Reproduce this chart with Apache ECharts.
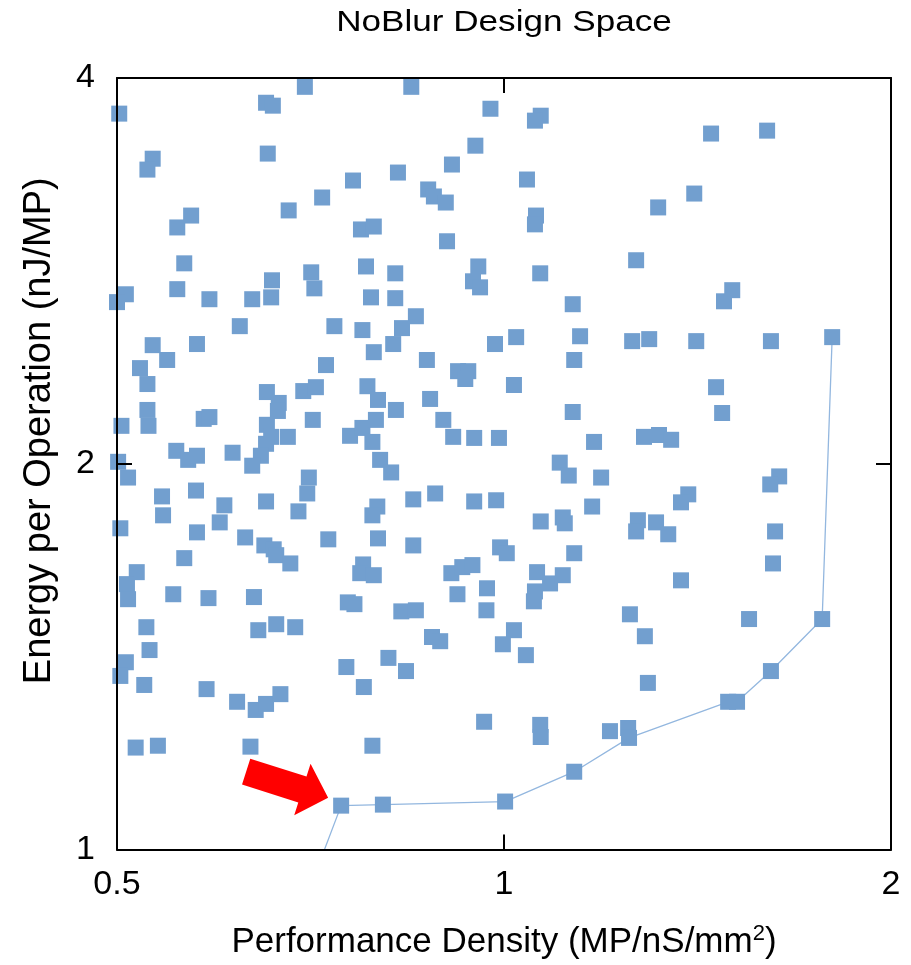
<!DOCTYPE html>
<html><head><meta charset="utf-8">
<script src="https://cdn.jsdelivr.net/npm/echarts@6/dist/echarts.min.js"></script>
<style>html,body{margin:0;padding:0;background:#fff}#c{width:911px;height:965px}</style>
</head><body><div id="c"></div>
<script>
const titleText = 'NoBlur Design Space';
const xAxisTitle = 'Performance Density (MP/nS/mm';
const xAxisTitleSup = '2';
const yAxisTitle = 'Energy per Operation (nJ/MP)';
const xTickValues = [0.5, 1, 2];
const yTickValues = [1, 2, 4];

// Performance density (MP/nS/mm^2) of each design point
const perfDensity = [
  0.502,0.653,0.661,0.700,0.533,0.528,0.655,0.763,0.722,0.680,
  0.571,0.557,0.774,0.792,0.564,0.781,0.708,0.712,0.660,0.659,
  0.508,0.500,0.557,0.590,0.637,0.788,0.623,0.738,0.776,0.847,
  0.976,1.068,1.057,0.950,0.911,0.827,1.042,0.873,0.882,0.901,
  1.059,1.057,0.903,0.823,0.955,0.946,0.958,1.067,0.823,0.854,
  1.131,0.833,1.449,1.602,1.406,1.318,1.267,1.505,1.483,0.533,
  0.577,0.547,0.521,0.528,0.727,0.792,0.783,0.798,0.654,0.668,
  0.667,0.698,0.714,0.528,0.529,0.504,0.584,0.590,0.710,0.654,
  0.659,0.653,0.647,0.637,0.679,0.759,0.776,0.790,0.556,0.568,
  0.577,0.615,0.501,0.510,0.705,0.703,0.576,0.542,0.543,0.606,
  0.601,0.653,0.692,0.797,0.790,0.503,0.577,0.629,0.651,0.662,
  0.665,0.682,0.730,0.798,0.564,0.518,0.509,0.777,0.773,0.792,
  0.553,0.589,0.639,0.510,0.820,0.984,1.022,1.146,0.871,0.921,
  0.938,0.933,1.134,1.018,0.876,0.824,1.131,0.795,0.897,0.913,
  0.948,0.991,1.175,0.801,0.817,1.105,1.123,1.190,0.850,0.884,
  0.948,0.986,1.171,1.068,1.111,1.115,0.850,0.993,1.005,1.134,
  0.910,0.928,0.945,1.061,1.086,1.111,1.057,0.970,0.920,1.258,
  1.297,1.411,1.613,1.800,1.462,1.478,1.285,1.320,1.349,1.637,
  1.611,1.391,1.373,1.271,1.267,1.313,1.342,1.625,1.619,1.373,
  0.756,0.765,0.527,0.644,0.665,0.688,0.530,0.508,0.503,0.525,
  0.587,0.754,0.778,0.620,0.641,0.653,0.670,0.517,0.538,0.635,
  0.790,0.747,0.832,0.854,0.969,1.055,1.253,0.879,0.892,1.018,
  0.998,1.040,0.813,0.839,0.965,1.067,1.068,1.209,1.249,1.251,
  1.134,0.805,1.002,1.551,1.287,1.294,1.768,1.613,1.494,1.518
];

// Energy per operation (nJ/MP) of each design point
const energyPerOp = [
  3.752,3.826,3.806,3.937,3.460,3.393,3.492,3.327,3.227,3.153,
  3.124,3.058,3.047,3.063,2.867,2.851,2.821,2.741,2.781,2.697,
  2.712,2.674,2.737,2.688,2.688,2.697,2.561,2.561,2.543,3.937,
  3.785,3.738,3.705,3.542,3.424,3.375,3.333,3.274,3.233,3.198,
  3.124,3.075,2.983,2.816,2.851,2.776,2.746,2.816,2.693,2.607,
  2.664,2.552,3.620,3.639,3.250,3.170,2.883,2.732,2.678,2.475,
  2.480,2.410,2.375,2.308,2.388,2.444,2.299,2.243,2.275,2.231,
  2.199,2.279,2.295,2.203,2.141,2.141,2.168,2.175,2.164,2.145,
  2.099,2.073,2.029,1.993,2.099,2.103,2.133,2.080,2.047,2.014,
  2.029,2.040,2.007,1.951,1.951,1.896,1.906,1.886,1.823,1.856,
  1.800,1.869,1.836,1.852,1.823,1.781,1.768,1.752,1.727,1.715,
  1.697,1.672,1.746,1.749,1.688,1.646,1.611,1.669,1.643,1.637,
  1.582,1.571,1.574,1.568,2.480,2.480,2.511,2.515,2.410,2.362,
  2.362,2.329,2.410,2.304,2.247,2.203,2.195,2.164,2.164,2.099,
  2.095,2.095,2.080,2.014,1.969,2.004,1.958,1.951,1.876,1.896,
  1.869,1.873,1.852,1.803,1.816,1.797,1.727,1.721,1.703,1.703,
  1.643,1.661,1.667,1.646,1.613,1.637,1.590,1.599,1.582,2.493,
  2.502,2.493,2.493,2.511,2.295,2.191,2.099,2.106,2.088,1.955,
  1.927,1.893,1.866,1.807,1.771,1.800,1.762,1.771,1.672,1.622,
  1.559,1.554,1.491,1.483,1.499,1.491,1.431,1.400,1.366,1.344,
  1.334,1.388,1.339,1.304,1.285,1.299,1.322,1.201,1.205,1.203,
  1.205,1.082,1.534,1.537,1.537,1.562,1.526,1.465,1.454,1.483,
  1.446,1.418,1.411,1.378,1.258,1.251,1.224,1.237,1.244,1.222,
  1.150,1.084,1.090,1.513,1.467,1.349,1.513,1.378,1.304,1.304
];

// Pareto frontier (continues below the plotted range at the first point)
const paretoPerf   = [0.702, 0.747, 0.805, 1.002, 1.134, 1.251, 1.494, 1.518, 1.613, 1.768, 1.800];
const paretoEnergy = [0.918, 1.082, 1.084, 1.090, 1.150, 1.222, 1.304, 1.304, 1.378, 1.513, 2.511];

// design point highlighted by the red arrow
const highlightedPoint = [0.747, 1.082];

const FONT = "'Liberation Sans', Arial, sans-serif";
const chart = echarts.init(document.getElementById('c'), null, {renderer: 'canvas'});

const axisLineStyle = {show: true, lineStyle: {color: '#000', width: 2}};
const axisTickStyle = {show: true, inside: true, length: 15, lineStyle: {color: '#000', width: 2}};

chart.setOption({
  animation: false,
  backgroundColor: '#fff',
  graphic: [{
    type: 'text', x: 504, y: 23, scaleX: 1.17, scaleY: 1,
    style: {text: titleText, fontSize: 30, fontFamily: FONT, fill: '#000', align: 'center', verticalAlign: 'middle'}
  }],
  grid: {left: 117, top: 78, right: 20, bottom: 113, containLabel: false, show: false},
  xAxis: [{
    type: 'log', logBase: 2, min: xTickValues[0], max: xTickValues[2], position: 'bottom', z: 10,
    name: '{a|' + xAxisTitle + '}{s|' + xAxisTitleSup + '}{a|)}',
    nameLocation: 'middle', nameGap: 73,
    nameTextStyle: {
      rich: {
        a: {fontSize: 35, fontFamily: FONT, color: '#000'},
        s: {fontSize: 22, fontFamily: FONT, color: '#000', verticalAlign: 'top', padding: [0, 0, 18, 0]}
      }
    },
    axisLine: axisLineStyle, axisTick: axisTickStyle,
    axisLabel: {fontSize: 34, fontFamily: FONT, color: '#000', margin: 18},
    splitLine: {show: false}, minorTick: {show: false}
  }, {
    type: 'log', logBase: 2, min: xTickValues[0], max: xTickValues[2], position: 'top', z: 10,
    axisLine: axisLineStyle, axisTick: axisTickStyle,
    axisLabel: {show: false}, splitLine: {show: false}
  }],
  yAxis: [{
    type: 'log', logBase: 2, min: yTickValues[0], max: yTickValues[2], position: 'left', z: 10,
    name: yAxisTitle, nameLocation: 'middle', nameGap: 58,
    nameTextStyle: {fontSize: 38, fontFamily: FONT, color: '#000', padding: [0, 0, 0, 66]},
    axisLine: axisLineStyle, axisTick: axisTickStyle,
    axisLabel: {fontSize: 34, fontFamily: FONT, color: '#000', margin: 22},
    splitLine: {show: false}, minorTick: {show: false}
  }, {
    type: 'log', logBase: 2, min: yTickValues[0], max: yTickValues[2], position: 'right', z: 10,
    axisLine: axisLineStyle, axisTick: axisTickStyle,
    axisLabel: {show: false}, splitLine: {show: false}
  }],
  series: [{
    name: 'Pareto frontier',
    type: 'line',
    xAxisIndex: 0, yAxisIndex: 0,
    data: paretoPerf.map((x, i) => [x, paretoEnergy[i]]),
    symbol: 'none', clip: true, z: 2,
    lineStyle: {color: '#93b7df', width: 1.3},
    markPoint: {
      silent: true,
      z: 6,
      data: [{
        coord: highlightedPoint,
        symbol: 'path://M0,13.4 L59,13.4 L59,0 L86,27 L59,54 L59,40.6 L0,40.6 Z',
        symbolSize: [86, 54],
        symbolRotate: -17.6,
        symbolOffset: [-54, -21],
        itemStyle: {color: '#ff0000'},
        label: {show: false}
      }]
    }
  }, {
    name: 'Design points',
    type: 'scatter',
    xAxisIndex: 0, yAxisIndex: 0,
    data: perfDensity.map((x, i) => [x, energyPerOp[i]]),
    symbol: 'rect', symbolSize: 16, clip: false, z: 3,
    itemStyle: {color: '#729fcf', opacity: 1}
  }]
});
</script>
</body></html>
